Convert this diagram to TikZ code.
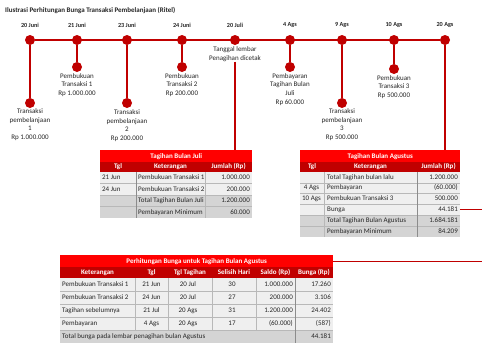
\documentclass[tikz,border=0pt]{standalone}
\usepackage{fontspec}
\setmainfont{Carlito}
\definecolor{dred}{HTML}{C00000}
\definecolor{bred}{HTML}{FF0000}
\definecolor{lightrowc}{HTML}{EFEFEF}
\definecolor{greyrowc}{HTML}{D4D4D4}
\definecolor{glinec}{HTML}{B8B8B8}
\definecolor{vlinec}{HTML}{8C8C8C}
\definecolor{txtc}{HTML}{262626}
\begin{document}
\begin{tikzpicture}[x=1pt,y=-1pt,
  tl/.style={line width=2pt, draw=dred},
  drop/.style={line width=1.5pt, draw=dred},
  dot/.style={circle, fill=dred, minimum size=10pt, inner sep=0pt},
  date/.style={font=\fontsize{6.2}{7}\selectfont\bfseries, text=txtc, inner sep=0pt},
  desc/.style={font=\fontsize{7}{8.7}\selectfont, text=txtc, align=center, anchor=north, inner sep=0pt},
  ttl/.style={fill=bred, text=white, font=\fontsize{7}{8}\selectfont\bfseries, inner sep=0pt, anchor=north west},
  hd/.style={text=white, font=\fontsize{7}{8}\selectfont\bfseries, inner sep=0pt, text height=4.9pt, text depth=1.4pt},
  tc/.style={text=txtc, font=\fontsize{7}{8}\selectfont, inner sep=0pt, text height=4.9pt, text depth=1.4pt},
  tcl/.style={tc, anchor=west},
  tcr/.style={tc, anchor=east},
  gridln/.style={draw=glinec, line width=0.5pt},
  vgridln/.style={draw=vlinec, line width=0.5pt}
]
\useasboundingbox (0,0) rectangle (482,343);
\fill[white] (0,0) rectangle (482,343);

% title
\node[anchor=west, inner sep=0pt, font=\fontsize{7}{8}\selectfont\bfseries, text=txtc] (title) at (5,10) {Ilustrasi Perhitungan Bunga Transaksi Pembelanjaan (Ritel)};

% timeline dots
\node[dot] (c1) at (30,40) {};
\node[dot] (c2) at (77,40) {};
\node[dot] (c3) at (127,40) {};
\node[dot] (c4) at (182,40) {};
\node[dot] (c5) at (235,40) {};
\node[dot] (c6) at (290,40) {};
\node[dot] (c7) at (342,40) {};
\node[dot] (c8) at (394,40) {};
\node[dot] (c9) at (445,40) {};
\draw[tl] (c1) -- (c9);

% dates
\node[date] (d1) at (30,25) {20 Juni};
\node[date] (d2) at (77,25) {21 Juni};
\node[date] (d3) at (127,25) {23 Juni};
\node[date] (d4) at (182,25) {24 Juni};
\node[date] (d5) at (235,25) {20 Juli};
\node[date] (d6) at (290,25) {4 Ags};
\node[date] (d7) at (342,25) {9 Ags};
\node[date] (d8) at (394,25) {10 Ags};
\node[date] (d9) at (445,25) {20 Ags};

% drops
\node[dot] (p1) at (30,103) {};
\draw[drop] (c1) -- (p1);
\node[desc] (t1) at (30,108.5) {Transaksi\\pembelanjaan\\1\\Rp 1.000.000};
\node[dot] (p2) at (77,67) {};
\draw[drop] (c2) -- (p2);
\node[desc] (t2) at (77,73) {Pembukuan\\Transaksi 1\\Rp 1.000.000};
\node[dot] (p3) at (127,103) {};
\draw[drop] (c3) -- (p3);
\node[desc] (t3) at (127,109.5) {Transaksi\\pembelanjaan\\2\\Rp 200.000};
\node[dot] (p4) at (182,67) {};
\draw[drop] (c4) -- (p4);
\node[desc] (t4) at (182,73) {Pembukuan\\Transaksi 2\\Rp 200.000};
\node[desc] (t5) at (235,46.5) {Tanggal lembar\\Penagihan dicetak};
\node[dot] (p6) at (290,67) {};
\draw[drop] (c6) -- (p6);
\node[desc] (t6) at (290,73) {Pembayaran\\Tagihan Bulan\\Juli\\Rp 60.000};
\node[dot] (p7) at (342,103) {};
\draw[drop] (c7) -- (p7);
\node[desc] (t7) at (342,108.5) {Transaksi\\pembelanjaan\\3\\Rp 500.000};
\node[dot] (p8) at (394,69) {};
\draw[drop] (c8) -- (p8);
\node[desc] (t8) at (394,75) {Pembukuan\\Transaksi 3\\Rp 500.000};

% ===== Juli table =====
\node[ttl, minimum width=152pt, minimum height=12pt] (juliT) at (100,150) {Tagihan Bulan Juli};
\fill[dred] (100,162) rectangle (252,172);
\node[hd] (jh1) at (118,167) {Tgl};
\node[hd] (jh2) at (170.5,167) {Keterangan};
\node[hd] (jh3) at (228.5,167) {Jumlah (Rp)};
\fill[lightrowc] (100,172) rectangle (252,195);
\fill[greyrowc] (100,195) rectangle (252,218);
\draw[gridln] (100,183.5) -- (252,183.5) (100,195) -- (252,195) (100,206.5) -- (252,206.5);
\draw[vgridln] (136,172) -- (136,218);
\draw[gridln] (205,172) -- (205,218);
\node[tcl] (j11) at (102,177.75) {21 Jun};
\node[tcl] (j12) at (138,177.75) {Pembukuan Transaksi 1};
\node[tcr] (j13) at (250,177.75) {1.000.000};
\node[tcl] (j21) at (102,189.25) {24 Jun};
\node[tcl] (j22) at (138,189.25) {Pembukuan Transaksi 2};
\node[tcr] (j23) at (250,189.25) {200.000};
\node[tcl] (j32) at (138,200.75) {Total Tagihan Bulan Juli};
\node[tcr] (j33) at (250,200.75) {1.200.000};
\node[tcl] (j42) at (138,212.25) {Pembayaran Minimum};
\node[tcr] (j43) at (250,212.25) {60.000};
\draw[drop] (t5.south) -- (t5.south |- juliT.north);

% ===== Agustus table =====
\node[ttl, minimum width=160pt, minimum height=12pt] (augT) at (300,150) {Tagihan Bulan Agustus};
\fill[dred] (300,162) rectangle (460,172);
\node[hd] (ah1) at (312,167) {Tgl};
\node[hd] (ah2) at (370.5,167) {Keterangan};
\node[hd] (ah3) at (438.5,167) {Jumlah (Rp)};
\fill[lightrowc] (300,172) rectangle (460,215.2);
\fill[greyrowc] (300,215.2) rectangle (460,236.8);
\draw[gridln] (300,182.8) -- (460,182.8) (300,193.6) -- (460,193.6) (300,204.4) -- (460,204.4)
  (300,215.2) -- (460,215.2) (300,226) -- (460,226);
\draw[gridln] (324,172) -- (324,236.8);
\draw[vgridln] (417,172) -- (417,236.8);
\node[tcl] (a12) at (327,177.4) {Total Tagihan bulan lalu};
\node[tcr] (a13) at (458,177.4) {1.200.000};
\node[tc] (a21) at (311.5,188.2) {4 Ags};
\node[tcl] (a22) at (327,188.2) {Pembayaran};
\node[tcr] (a23) at (458,188.2) {(60.000)};
\node[tc] (a31) at (311.5,199) {10 Ags};
\node[tcl] (a32) at (327,199) {Pembukuan Transaksi 3};
\node[tcr] (a33) at (458,199) {500.000};
\node[tcl] (a42) at (327,209.8) {Bunga};
\node[tcr] (a43) at (458,209.8) {44.181};
\node[tcl] (a52) at (327,220.6) {Total Tagihan Bulan Agustus};
\node[tcr] (a53) at (458,220.6) {1.684.181};
\node[tcl] (a62) at (327,231.4) {Pembayaran Minimum};
\node[tcr] (a63) at (458,231.4) {84.209};
\draw[drop] (c9) -- (c9 |- augT.north);

% ===== Bottom table =====
\node[ttl, minimum width=273pt, minimum height=12pt] (botT) at (60,255) {Perhitungan Bunga untuk Tagihan Bulan Agustus};
\fill[dred] (60,267) rectangle (333,278);
\node[hd] (bh1) at (97.5,272.5) {Keterangan};
\node[hd] (bh2) at (151.5,272.5) {Tgl};
\node[hd] (bh3) at (190,272.5) {Tgl Tagihan};
\node[hd] (bh4) at (234,272.5) {Selisih Hari};
\node[hd] (bh5) at (275.5,272.5) {Saldo (Rp)};
\node[hd] (bh6) at (314,272.5) {Bunga (Rp)};
\fill[lightrowc] (60,278) rectangle (333,330);
\fill[greyrowc] (60,330) rectangle (333,343);
\draw[gridln] (60,291) -- (333,291) (60,304) -- (333,304) (60,317) -- (333,317) (60,330) -- (333,330);
\draw[gridln] (135,278) -- (135,330) (168,278) -- (168,330) (212,278) -- (212,330) (256,278) -- (256,330);
\draw[vgridln] (295,278) -- (295,343);
\node[tcl] (b11) at (62,284.5) {Pembukuan Transaksi 1};
\node[tc] (b12) at (151.5,284.5) {21 Jun};
\node[tc] (b13) at (188,284.5) {20 Jul};
\node[tc] (b14) at (232,284.5) {30};
\node[tcr] (b15) at (293,284.5) {1.000.000};
\node[tcr] (b16) at (331,284.5) {17.260};
\node[tcl] (b21) at (62,297.5) {Pembukuan Transaksi 2};
\node[tc] (b22) at (151.5,297.5) {24 Jun};
\node[tc] (b23) at (188,297.5) {20 Jul};
\node[tc] (b24) at (232,297.5) {27};
\node[tcr] (b25) at (293,297.5) {200.000};
\node[tcr] (b26) at (331,297.5) {3.106};
\node[tcl] (b31) at (62,310.5) {Tagihan sebelumnya};
\node[tc] (b32) at (151.5,310.5) {21 Jul};
\node[tc] (b33) at (188,310.5) {20 Ags};
\node[tc] (b34) at (232,310.5) {31};
\node[tcr] (b35) at (293,310.5) {1.200.000};
\node[tcr] (b36) at (331,310.5) {24.402};
\node[tcl] (b41) at (62,323.5) {Pembayaran};
\node[tc] (b42) at (151.5,323.5) {4 Ags};
\node[tc] (b43) at (188,323.5) {20 Ags};
\node[tc] (b44) at (232,323.5) {17};
\node[tcr] (b45) at (293,323.5) {(60.000)};
\node[tcr] (b46) at (331,323.5) {(587)};
\node[tcl] (b51) at (62,336.5) {Total bunga pada lembar penagihan bulan Agustus};
\node[tcr] (b56) at (331,336.5) {44.181};

% connector Bunga -> bottom table
\draw[dred, line width=1.3pt] ([xshift=2pt]a43.east) -- ++(30,0) |- (botT.east);
\end{tikzpicture}
\end{document}
